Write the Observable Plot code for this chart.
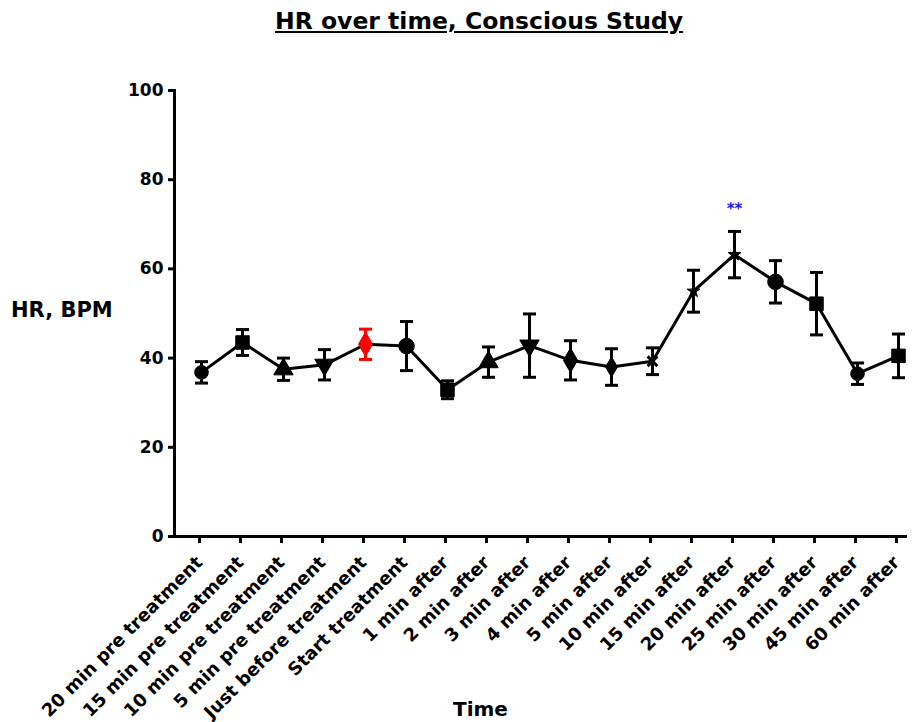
<!DOCTYPE html>
<html><head><meta charset="utf-8">
<script src="https://cdn.jsdelivr.net/npm/d3@7"></script>
<script src="https://cdn.jsdelivr.net/npm/@observablehq/plot@0.6"></script>
<style>
body{margin:0;background:#fff;}
#wrap{position:relative;width:913px;height:722px;font-family:"DejaVu Sans",sans-serif;font-weight:bold;color:#000;}
.lbl{position:absolute;white-space:nowrap;line-height:1;}
</style></head><body>
<div id="wrap">
<div class="lbl" style="left:275px;top:10px;font-size:23.5px;text-decoration:underline;">HR over time, Conscious Study</div>
<div id="chart" style="position:absolute;left:0;top:40px;"></div>
<div class="lbl" style="left:11px;top:300px;font-size:21px;">HR, BPM</div>
<div class="lbl" style="left:453px;top:699px;font-size:20px;">Time</div>
</div>
<script>
const times = ["20 min pre treatment","15 min pre treatment","10 min pre treatment","5 min pre treatment","Just before treatment","Start treatment","1 min after","2 min after","3 min after","4 min after","5 min after","10 min after","15 min after","20 min after","25 min after","30 min after","45 min after","60 min after"];
const hrMean = [36.8, 43.5, 37.5, 38.5, 43.1, 42.7, 32.9, 39.1, 42.8, 39.5, 38.0, 39.3, 55.0, 63.2, 57.1, 52.2, 36.5, 40.5];
const hrSem  = [2.4, 2.9, 2.5, 3.4, 3.4, 5.5, 2.0, 3.4, 7.1, 4.4, 4.1, 3.0, 4.7, 5.2, 4.75, 7.0, 2.4, 4.9];
const markerShapes = ["circle","square","triangle","triangleDown","diamond","circleLarge","square","triangle","triangleDown","diamond","diamondSmall","times","star","star","circleLarge","square","circle","square"];
const yTicks = [0, 20, 40, 60, 80, 100];
const highlighted = "Just before treatment";
const sigTime = ["20 min after"];
const sigLabel = ["**"];
const sigY = [73.5];

const rows = times.map((t, i) => ({time: t, mean: hrMean[i], lo: hrMean[i] - hrSem[i], hi: hrMean[i] + hrSem[i], shape: markerShapes[i], color: t === highlighted ? "#ff0000" : "#000000"}));
const sig = sigTime.map((t, i) => ({time: t, label: sigLabel[i], y: sigY[i]}));

const triangleDown = {draw(ctx, size) {
  const y = -Math.sqrt(size / (3 * Math.sqrt(3)));
  ctx.moveTo(0, -2 * y); ctx.lineTo(-Math.sqrt(3) * y, y); ctx.lineTo(Math.sqrt(3) * y, y); ctx.closePath();
}};
const capSymbol = {draw(ctx) { ctx.moveTo(-6.5, 0); ctx.lineTo(6.5, 0); }};
const symbolFor = {circle: "circle", circleLarge: "circle", square: "square", triangle: "triangle", triangleDown: triangleDown, diamond: "diamond", diamondSmall: "diamond", times: "times", star: "star"};
const rFor = {circle: 6.8, circleLarge: 7.8, square: 7.6, triangle: 7.2, triangleDown: 7.2, diamond: 7.4, diamondSmall: 6.2, times: 4.5, star: 4};

const markerMarks = Object.keys(symbolFor).map(s =>
  Plot.dot(rows.filter(d => d.shape === s), {x: "time", y: "mean", symbol: symbolFor[s], r: rFor[s], fill: d => d.color, stroke: d => d.color, strokeWidth: s === "times" ? 3 : 1})
);

const chart = Plot.plot({
  width: 913, height: 682,
  marginTop: 50, marginBottom: 186, marginLeft: 174, marginRight: 6,
  style: {fontFamily: "DejaVu Sans, sans-serif", fontWeight: "bold", fontSize: "17px", color: "#000", background: "#fff", overflow: "visible"},
  x: {type: "point", domain: times, range: [195, 904], padding: 0},
  y: {domain: [0, 100]},
  marks: [
    Plot.axisY({ticks: yTicks, tickSize: 6, tickPadding: 5, label: null, strokeWidth: 3, fontSize: 17}),
    Plot.axisX({tickSize: 7, tickPadding: 16, tickRotate: -45, label: null, strokeWidth: 3, fontSize: 18, dx: -2}),
    Plot.frame({anchor: "left", strokeWidth: 3}),
    Plot.ruleY([0], {strokeWidth: 3}),
    Plot.line(rows, {x: "time", y: "mean", stroke: "#000", strokeWidth: 3}),
    Plot.ruleX(rows, {x: "time", y1: "lo", y2: "hi", stroke: "color", strokeWidth: 3}),
    Plot.dot(rows, {x: "time", y: "lo", symbol: capSymbol, r: 3, fill: "none", stroke: "color", strokeWidth: 3}),
    Plot.dot(rows, {x: "time", y: "hi", symbol: capSymbol, r: 3, fill: "none", stroke: "color", strokeWidth: 3}),
    ...markerMarks,
    Plot.text(sig, {x: "time", y: "y", text: "label", fill: "#1a1aff", fontSize: 15})
  ]
});
document.getElementById("chart").appendChild(chart);
</script>
</body></html>
